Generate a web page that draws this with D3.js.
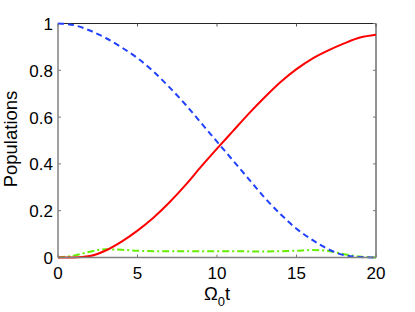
<!DOCTYPE html>
<html><head><meta charset="utf-8">
<script src="https://cdn.jsdelivr.net/npm/d3@7"></script>
<style>body{margin:0;background:#fff}svg{display:block}text{font-family:"Liberation Sans",Arial,sans-serif}</style>
</head><body>
<svg id="c" width="415" height="312"></svg>
<script>
const tValues = [0,1,2,3,4,5,6,7,8,9,10,11,12,13,14,15,16,17,18,19,20];
const redSeries = [0,0.0005,0.006,0.03,0.068,0.115,0.17,0.235,0.308,0.388,0.465,0.54,0.615,0.685,0.75,0.805,0.85,0.885,0.915,0.94,0.952];
const blueSeries = [1,0.993,0.97,0.938,0.898,0.852,0.795,0.728,0.655,0.575,0.495,0.415,0.335,0.255,0.185,0.123,0.075,0.035,0.01,0.002,0];
const greenSeries = [0,0.008,0.025,0.035,0.033,0.029,0.027,0.027,0.027,0.027,0.027,0.027,0.026,0.026,0.027,0.029,0.032,0.028,0.014,0.004,0];
const xTicks = [0,5,10,15,20];
const yTicks = [0,0.2,0.4,0.6,0.8,1];
const yTickLabels = ["0","0.2","0.4","0.6","0.8","1"];

const svg = d3.select("#c");
const L=58,R=376,T=23.5,B=257.5;
const x = d3.scaleLinear().domain([0,20]).range([L,R]);
const y = d3.scaleLinear().domain([0,1]).range([B,T]);

svg.append("line").attr("x1",L).attr("x2",R).attr("y1",T).attr("y2",T).attr("stroke","#262626").attr("stroke-width",1);
svg.append("line").attr("x1",R).attr("x2",R).attr("y1",T).attr("y2",B).attr("stroke","#262626").attr("stroke-width",1);

xTicks.forEach(v=>{
  svg.append("line").attr("x1",x(v)).attr("x2",x(v)).attr("y1",T).attr("y2",T+3).attr("stroke","#555");
  svg.append("line").attr("x1",x(v)).attr("x2",x(v)).attr("y1",B).attr("y2",B-3).attr("stroke","#777");
});
yTicks.forEach(v=>{
  svg.append("line").attr("x1",R).attr("x2",R-3).attr("y1",y(v)).attr("y2",y(v)).attr("stroke","#777");
  svg.append("line").attr("x1",L).attr("x2",L+3).attr("y1",y(v)).attr("y2",y(v)).attr("stroke","#777");
});

const line = (arr)=>d3.line().x((d,i)=>x(tValues[i])).y(d=>y(d)).curve(d3.curveMonotoneX)(arr);
svg.append("path").attr("d",line(greenSeries)).attr("fill","none").attr("stroke","#66ee00").attr("stroke-width",2).attr("stroke-dasharray","7,3,2,3");
svg.append("path").attr("d",line(blueSeries)).attr("fill","none").attr("stroke","#2040ff").attr("stroke-width",2).attr("stroke-dasharray","6,4");
svg.append("path").attr("d",line(redSeries)).attr("fill","none").attr("stroke","#ff0000").attr("stroke-width",2);

svg.append("line").attr("x1",L).attr("x2",R).attr("y1",B).attr("y2",B).attr("stroke","#808080").attr("stroke-width",1.5);
svg.append("line").attr("x1",L).attr("x2",L).attr("y1",T).attr("y2",B).attr("stroke","#808080").attr("stroke-width",1.5);

xTicks.forEach(v=>{
  svg.append("text").attr("x",x(v)).attr("y",279).attr("text-anchor","middle").attr("font-size",17).attr("fill","#000").text(v);
});
yTicks.forEach((v,i)=>{
  svg.append("text").attr("x",53).attr("y",y(v)+6.5).attr("text-anchor","end").attr("font-size",17).attr("fill","#000").text(yTickLabels[i]);
});
const xl = svg.append("text").attr("x",217).attr("y",300).attr("text-anchor","middle").attr("font-size",18.5).attr("fill","#000");
xl.append("tspan").text("Ω");
xl.append("tspan").attr("font-size",13).attr("dy",6).text("0");
xl.append("tspan").attr("dy",-6).text("t");
svg.append("text").attr("transform","translate(17,139) rotate(-90)").attr("text-anchor","middle").attr("font-size",18.5).attr("fill","#000").text("Populations");
</script>
</body></html>
